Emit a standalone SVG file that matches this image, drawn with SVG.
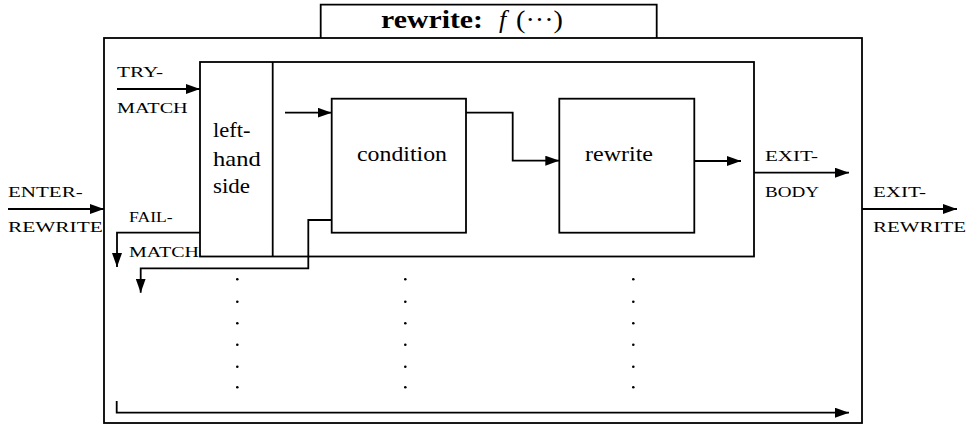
<svg xmlns="http://www.w3.org/2000/svg" width="969" height="425" viewBox="0 0 969 425">
<style>
.box{fill:none;stroke:#000;stroke-width:1.8}
.ln{fill:none;stroke:#000;stroke-width:1.8}
.arr{fill:none;stroke:#000;stroke-width:1.8;marker-end:url(#ah)}
.t{font-family:"Liberation Serif","Times New Roman",serif;font-size:22px;fill:#000}
.sc{font-family:"Liberation Serif","Times New Roman",serif;font-size:15px;fill:#000}
.ttl{font-family:"Liberation Serif","Times New Roman",serif;font-size:26px;fill:#000}
.dot{fill:#000}
</style>
<defs>
<marker id="ah" markerUnits="userSpaceOnUse" markerWidth="14" markerHeight="10" refX="14" refY="5" orient="auto">
<path d="M0,0 L14,5 L0,10 z" fill="#000"/>
</marker>
</defs>
<rect width="969" height="425" fill="#fff"/>
<g id="outer">
<rect class="box" x="104" y="38" width="758" height="385"/>
<path class="ln" d="M320.7,38 V4.7 H656.7 V38"/>
<text class="ttl" x="381" y="28" font-weight="bold" textLength="102" lengthAdjust="spacingAndGlyphs">rewrite:</text>
<text class="ttl" x="499" y="28" font-style="italic">f</text>
<text class="ttl" x="516" y="28" textLength="47" lengthAdjust="spacingAndGlyphs">(···)</text>
</g>
<g id="body">
<rect class="box" x="200" y="62" width="554" height="194.5"/>
</g>
<g id="lhs">
<line class="ln" x1="272.7" y1="62" x2="272.7" y2="256.5"/>
<text class="t" x="213" y="137" textLength="37.5" lengthAdjust="spacingAndGlyphs">left-</text>
<text class="t" x="213" y="166" textLength="47.7" lengthAdjust="spacingAndGlyphs">hand</text>
<text class="t" x="213" y="193" textLength="37" lengthAdjust="spacingAndGlyphs">side</text>
</g>
<g id="condition">
<rect class="box" x="331.7" y="98.7" width="134.3" height="134"/>
<text class="t" x="357" y="161" textLength="90" lengthAdjust="spacingAndGlyphs">condition</text>
</g>
<g id="rewrite">
<rect class="box" x="559.3" y="98.7" width="135" height="134"/>
<text class="t" x="585" y="161" textLength="68" lengthAdjust="spacingAndGlyphs">rewrite</text>
</g>
<g id="connectors">
<path class="arr" d="M8,209 H104"/>
<path class="arr" d="M117,89 H200"/>
<path class="arr" d="M285,112.7 H331.7"/>
<path class="arr" d="M466,112.7 H512.7 V160.7 H559.3"/>
<path class="arr" d="M694.3,161 H741"/>
<path class="arr" d="M754,172.7 H849"/>
<path class="arr" d="M862,209 H957"/>
<path class="arr" d="M200,232.7 H117 V267"/>
<path class="arr" d="M331.7,220 H308.3 V268.3 H140.7 V292.7"/>
<path class="arr" d="M116.7,401 V412.7 H849"/>
</g>
<g id="labels">
<text class="sc" x="117" y="77" textLength="46" lengthAdjust="spacingAndGlyphs">TRY-</text>
<text class="sc" x="117" y="113" textLength="70.7" lengthAdjust="spacingAndGlyphs">MATCH</text>
<text class="sc" x="8" y="197" textLength="74.7" lengthAdjust="spacingAndGlyphs">ENTER-</text>
<text class="sc" x="8" y="232" textLength="94.7" lengthAdjust="spacingAndGlyphs">REWRITE</text>
<text class="sc" x="129" y="222" textLength="43.7" lengthAdjust="spacingAndGlyphs">FAIL-</text>
<text class="sc" x="129" y="257" textLength="70" lengthAdjust="spacingAndGlyphs">MATCH</text>
<text class="sc" x="765" y="161" textLength="53" lengthAdjust="spacingAndGlyphs">EXIT-</text>
<text class="sc" x="765" y="197" textLength="54" lengthAdjust="spacingAndGlyphs">BODY</text>
<text class="sc" x="873" y="197" textLength="53" lengthAdjust="spacingAndGlyphs">EXIT-</text>
<text class="sc" x="873" y="232" textLength="93" lengthAdjust="spacingAndGlyphs">REWRITE</text>
</g>
<g id="dots">
<circle class="dot" cx="237.3" cy="279.3" r="1.3"/><circle class="dot" cx="237.3" cy="301.7" r="1.3"/><circle class="dot" cx="237.3" cy="323.3" r="1.3"/><circle class="dot" cx="237.3" cy="344.7" r="1.3"/><circle class="dot" cx="237.3" cy="366.7" r="1.3"/><circle class="dot" cx="237.3" cy="387.3" r="1.3"/>
<circle class="dot" cx="405.3" cy="279.3" r="1.3"/><circle class="dot" cx="405.3" cy="301.7" r="1.3"/><circle class="dot" cx="405.3" cy="323.3" r="1.3"/><circle class="dot" cx="405.3" cy="344.7" r="1.3"/><circle class="dot" cx="405.3" cy="366.7" r="1.3"/><circle class="dot" cx="405.3" cy="387.3" r="1.3"/>
<circle class="dot" cx="633.3" cy="279.3" r="1.3"/><circle class="dot" cx="633.3" cy="301.7" r="1.3"/><circle class="dot" cx="633.3" cy="323.3" r="1.3"/><circle class="dot" cx="633.3" cy="344.7" r="1.3"/><circle class="dot" cx="633.3" cy="366.7" r="1.3"/><circle class="dot" cx="633.3" cy="387.3" r="1.3"/>
</g>
</svg>
